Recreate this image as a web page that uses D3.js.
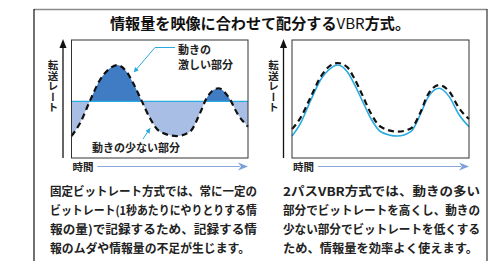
<!DOCTYPE html>
<html><head><meta charset="utf-8">
<script src="https://cdn.jsdelivr.net/npm/d3@7/dist/d3.min.js"></script>
<style>html,body{margin:0;padding:0;background:#fff;}svg{display:block;}</style>
</head><body><svg id="c" width="494" height="261"></svg>
<script>
// ---- data ----
const titleA = "情報量を映像に合わせて配分する";
const titleB = "VBR";
const titleC = "方式。";
const yLabel = "転送レート";
const xLabel = "時間";
const timePts   = [0, 4.8, 10.5, 16.1, 21.8, 25.9, 31.2, 35, 39.7, 44.5, 50.1, 59.6, 67.1, 72.8, 76.5, 83.2, 88.8, 94.5, 100];
const leftInfo  = [18.6, 29.4, 48.6, 66.1, 76, 78.8, 73.1, 63.3, 48.6, 33.6, 22.3, 18.6, 22.3, 37.9, 50.6, 59.1, 52, 36.4, 26.5]; // 情報量 (固定)
const fixedRate = 48;                                                                                                               // 固定ビットレート
const vbrRate   = [18.6, 29.4, 48.6, 66.1, 76, 78.8, 73.1, 63.3, 48.6, 33.6, 22.3, 18.6, 22.3, 37.9, 50.6, 59.1, 52, 36.4, 26.5]; // 2パスVBR
const rightInfo = [24.5, 34, 51.5, 68.5, 78.5, 80.5, 77, 68, 53.5, 38, 26.5, 22.3, 25, 39.5, 53, 61.8, 56.5, 42, 33];             // 情報量 (VBR)
const calloutHigh = ["動きの", "激しい部分"];
const calloutLow = "動きの少ない部分";
const leftText = ["固定ビットレート方式では、常に一定の",
                  "ビットレート(1秒あたりにやりとりする情",
                  "報の量)で記録するため、記録する情",
                  "報のムダや情報量の不足が生じます。"];
const rightText = ["2パスVBR方式では、動きの多い",
                   "部分でビットレートを高くし、動きの",
                   "少ない部分でビットレートを低くする",
                   "ため、情報量を効率よく使えます。"];
const leftWidths = [207, 207, 207, 200];
const rightWidths = [197, 197, 197, 195];

const svg = d3.select("#c");
const FONT = "'Noto Sans CJK JP','Noto Sans',sans-serif";
const defs = svg.append("defs");
defs.append("marker").attr("id","ah").attr("viewBox","0 0 10 10").attr("refX",9).attr("refY",5)
  .attr("markerWidth",5).attr("markerHeight",5).attr("orient","auto")
  .append("path").attr("d","M0,0L10,5L0,10Z").attr("fill","#29abe2");

// outer frame
svg.append("line").attr("x1",34).attr("x2",487).attr("y1",9.5).attr("y2",9.5).attr("stroke","#8a8a8a").attr("stroke-width",1.5);
svg.append("line").attr("x1",34).attr("x2",34).attr("y1",9).attr("y2",261).attr("stroke","#111").attr("stroke-width",1.2);
svg.append("line").attr("x1",487).attr("x2",487).attr("y1",9).attr("y2",261).attr("stroke","#333").attr("stroke-width",1.2);

const t = svg.append("text").attr("x",110).attr("y",29).attr("textLength",300).attr("lengthAdjust","spacingAndGlyphs")
  .attr("font-family",FONT).attr("font-weight","bold").attr("font-size",15).attr("fill","#111");
t.append("tspan").text(titleA);
t.append("tspan").attr("font-weight","normal").text(titleB);
t.append("tspan").text(titleC);

function panel(x0, x1, top, bottom) {
  const g = svg.append("g");
  const xs = d3.scaleLinear().domain([0,100]).range([x0, x1]);
  const ys = d3.scaleLinear().domain([0,100]).range([bottom, top]);
  const ax = x0 - 8.5;
  g.append("line").attr("x1",ax).attr("x2",ax).attr("y1",bottom).attr("y2",top+6).attr("stroke","#111").attr("stroke-width",1.3);
  g.append("path").attr("d",`M${ax-3.5},${top+8}L${ax},${top-1}L${ax+3.5},${top+8}Z`).attr("fill","#111");
  g.append("text").attr("x",ax-10).attr("y",top+20).attr("font-family",FONT).attr("font-weight","bold")
    .attr("font-size",10.5).attr("fill","#222").style("writing-mode","vertical-rl").text(yLabel);
  g.append("text").attr("x",x0+1).attr("y",bottom+13).attr("font-family",FONT).attr("font-weight","bold")
    .attr("font-size",10.5).attr("fill","#222").text(xLabel);
  g.append("line").attr("x1",x0+26).attr("x2",x1-8).attr("y1",bottom+8.5).attr("y2",bottom+8.5).attr("stroke","#8aa8dc").attr("stroke-width",1.2);
  g.append("path").attr("d",`M${x1-10},${bottom+4.5}L${x1},${bottom+8.5}L${x1-10},${bottom+12.5}L${x1-7},${bottom+8.5}Z`).attr("fill","#7b9fd8");
  return {g, xs, ys};
}

const CURVE = d3.curveMonotoneX;
// left panel
const L = panel(71.5, 248, 40, 158);
const lineL = d3.line().x((d,i)=>L.xs(timePts[i])).y(d=>L.ys(d)).curve(CURVE);
const areaL = d3.area().x((d,i)=>L.xs(timePts[i])).y0(L.ys(fixedRate)).y1(d=>L.ys(d)).curve(CURVE);
defs.append("clipPath").attr("id","above").append("rect").attr("x",71.5).attr("y",40).attr("width",176.5).attr("height",L.ys(fixedRate)-40);
defs.append("clipPath").attr("id","below").append("rect").attr("x",71.5).attr("y",L.ys(fixedRate)).attr("width",176.5).attr("height",158-L.ys(fixedRate));
L.g.append("path").datum(leftInfo).attr("d",areaL).attr("fill","#3f7cc4").attr("clip-path","url(#above)");
L.g.append("path").datum(leftInfo).attr("d",areaL).attr("fill","#a8bee4").attr("clip-path","url(#below)");
L.g.append("line").attr("x1",71.5).attr("x2",248).attr("y1",L.ys(fixedRate)).attr("y2",L.ys(fixedRate)).attr("stroke","#29abe2").attr("stroke-width",1.3);
L.g.append("path").datum(leftInfo).attr("d",lineL).attr("fill","none").attr("stroke","#111").attr("stroke-width",2.2).attr("stroke-dasharray","6,4");
L.g.append("rect").attr("x",71.5).attr("y",40).attr("width",176.5).attr("height",118).attr("fill","none").attr("stroke","#333").attr("stroke-width",1);
L.g.append("path").attr("d","M175,47.5L155,47.5L134,72").attr("fill","none").attr("stroke","#29abe2").attr("stroke-width",1).attr("marker-end","url(#ah)");
calloutHigh.forEach((s,i)=>L.g.append("text").attr("x",178).attr("y",54+i*15).attr("font-family",FONT).attr("font-weight","bold")
  .attr("font-size",11).attr("fill","#222").text(s));
L.g.append("line").attr("x1",143).attr("x2",150).attr("y1",139).attr("y2",128.5).attr("stroke","#29abe2").attr("stroke-width",1).attr("marker-end","url(#ah)");
L.g.append("text").attr("x",136).attr("y",152).attr("text-anchor","middle").attr("font-family",FONT).attr("font-weight","bold")
  .attr("font-size",11).attr("fill","#222").text(calloutLow);

// right panel
const R = panel(292, 469, 40, 158);
const lineR = d3.line().x((d,i)=>R.xs(timePts[i])).y(d=>R.ys(d)).curve(CURVE);
R.g.append("path").datum(vbrRate).attr("d",lineR).attr("fill","none").attr("stroke","#29abe2").attr("stroke-width",1.6);
R.g.append("path").datum(rightInfo).attr("d",lineR).attr("fill","none").attr("stroke","#111").attr("stroke-width",2.2).attr("stroke-dasharray","6,4");
R.g.append("rect").attr("x",292).attr("y",40).attr("width",177).attr("height",118).attr("fill","none").attr("stroke","#333").attr("stroke-width",1);

function para(lines, widths, x) {
  lines.forEach((s,i)=>{
    svg.append("text").attr("x",x).attr("y",196+i*19).attr("font-family",FONT).attr("font-weight","bold")
      .attr("font-size",12).attr("textLength",widths[i]).attr("lengthAdjust","spacingAndGlyphs")
      .attr("fill","#222").text(s);
  });
}
para(leftText, leftWidths, 50);
para(rightText, rightWidths, 283);
</script></body></html>
